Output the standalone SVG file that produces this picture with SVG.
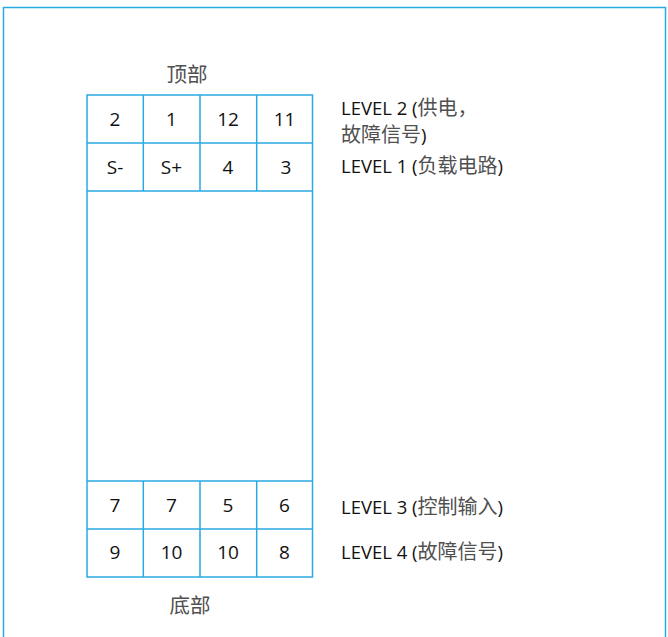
<svg xmlns="http://www.w3.org/2000/svg" width="668" height="637" viewBox="0 0 668 637">
<style>
.ln{fill:none;stroke:#29abe2;stroke-width:1.5}
.num{font-family:"Open Sans","Noto Sans CJK SC",sans-serif;font-size:19px;fill:#111111;text-anchor:middle}
.lbl{font-family:"Open Sans","Noto Sans CJK SC",sans-serif;font-size:18.5px;fill:#111111}
.cjk{font-family:"Noto Sans CJK SC",sans-serif;font-size:20px;fill:#505050}
.cap{font-family:"Noto Sans CJK SC",sans-serif;font-size:20.5px;fill:#505050;text-anchor:middle}
</style>
<rect width="668" height="637" fill="#ffffff"/>
<path class="ln" d="M3.5,640 V7.5 H665.5 V640"/>
<g id="top-label"><text class="cap" x="187" y="82">顶部</text></g>
<g id="bottom-label"><text class="cap" x="190" y="613">底部</text></g>
<g id="block">
<rect class="ln" x="87" y="95" width="225.5" height="482"/>
<path class="ln" d="M87,143 H312.5 M87,191 H312.5 M87,481 H312.5 M87,529 H312.5"/>
<path class="ln" d="M143.3,95 V191 M200,95 V191 M256.7,95 V191 M143.3,481 V577 M200,481 V577 M256.7,481 V577"/>
</g>
<g id="level2-row">
<text class="num" x="115" y="126">2</text>
<text class="num" x="171.5" y="126">1</text>
<text class="num" x="228" y="126">12</text>
<text class="num" x="284.5" y="126">11</text>
</g>
<g id="level1-row">
<text class="num" x="115" y="174">S-</text>
<text class="num" x="171.5" y="174">S+</text>
<text class="num" x="228" y="174">4</text>
<text class="num" x="286" y="174">3</text>
</g>
<g id="level3-row">
<text class="num" x="115" y="512">7</text>
<text class="num" x="171.5" y="512">7</text>
<text class="num" x="228" y="512">5</text>
<text class="num" x="284.5" y="512">6</text>
</g>
<g id="level4-row">
<text class="num" x="115" y="559">9</text>
<text class="num" x="171.5" y="559">10</text>
<text class="num" x="228" y="559">10</text>
<text class="num" x="284.5" y="559">8</text>
</g>
<g id="labels">
<text class="lbl" x="341" y="115">LEVEL 2 (<tspan class="cjk">供电，</tspan></text>
<text class="lbl" x="341" y="142"><tspan class="cjk">故障信号</tspan>)</text>
<text class="lbl" x="341" y="173">LEVEL 1 (<tspan class="cjk">负载电路</tspan>)</text>
<text class="lbl" x="341" y="514">LEVEL 3 (<tspan class="cjk">控制输入</tspan>)</text>
<text class="lbl" x="341" y="559">LEVEL 4 (<tspan class="cjk">故障信号</tspan>)</text>
</g>
</svg>
